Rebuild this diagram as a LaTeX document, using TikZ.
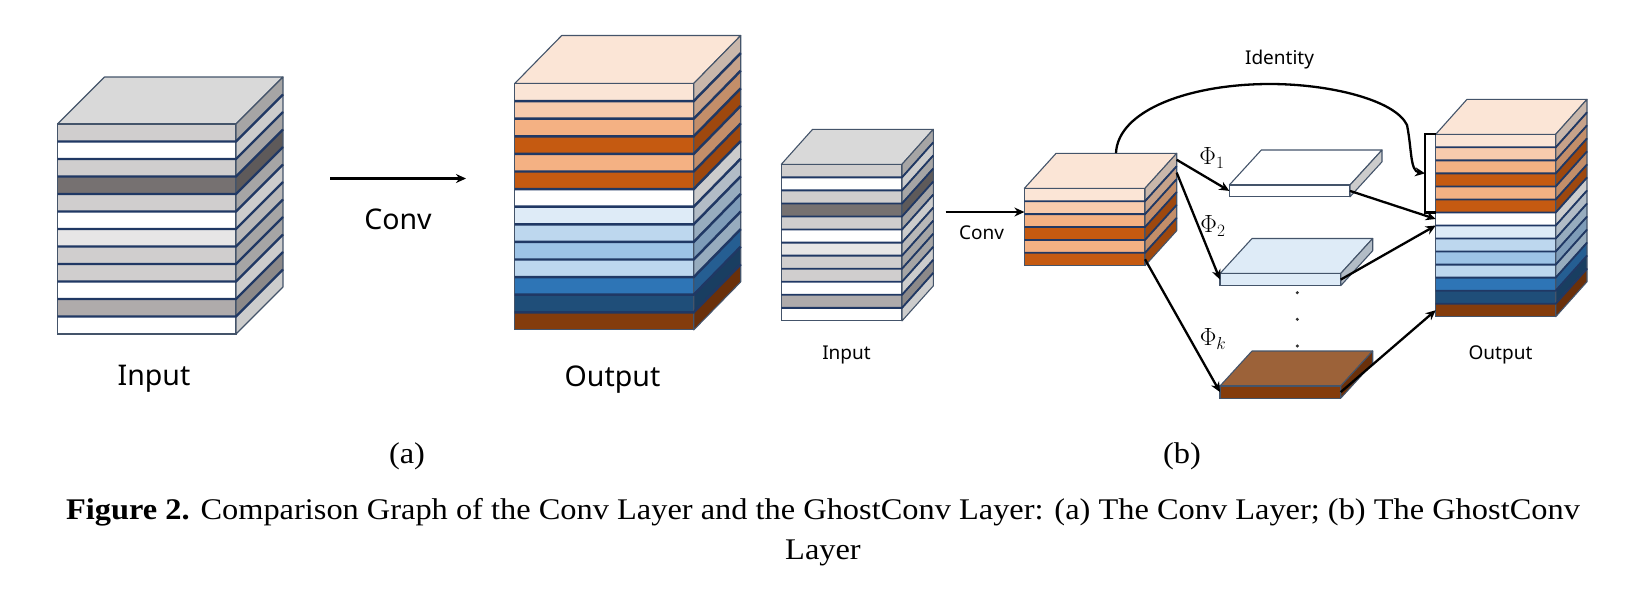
\documentclass[tikz,border=0pt]{standalone}
\usepackage{fontspec}
\setmainfont{Liberation Serif}
\newfontfamily\labelfont{Noto Sans}
\newfontfamily\capfont[FakeStretch=1.08]{Liberation Serif}
\usetikzlibrary{calc,arrows.meta}
\definecolor{edgecol}{HTML}{44546A}
\definecolor{sepcol}{HTML}{203864}
\definecolor{gra}{HTML}{D0CECE}
\definecolor{grb}{HTML}{767171}
\definecolor{grc}{HTML}{E7E6E6}
\definecolor{grd}{HTML}{AFABAB}
\definecolor{gre}{HTML}{D9D9D9}
\definecolor{ora}{HTML}{FBE5D6}
\definecolor{orb}{HTML}{F8CBAD}
\definecolor{orc}{HTML}{F4B183}
\definecolor{ord}{HTML}{C55A11}
\definecolor{ore}{HTML}{843C0C}
\definecolor{orf}{HTML}{9C6239}
\definecolor{bla}{HTML}{DEEBF7}
\definecolor{blb}{HTML}{BDD7EE}
\definecolor{blc}{HTML}{9DC3E6}
\definecolor{bld}{HTML}{2E75B6}
\definecolor{ble}{HTML}{1F4E79}
\tikzset{
  layerbox/.style={draw=edgecol, line width=1.1pt, inner sep=0pt, outer sep=0pt},
  sideface/.style={draw=edgecol, line width=1.1pt, line join=round},
  sepline/.style={draw=sepcol, line width=#1},
  flow/.style={-{Stealth[length=10pt,width=9pt]}, line width=2.3pt},
  biglabel/.style={font=\labelfont\fontsize{28.5}{34}\selectfont, inner sep=0pt},
  smalllabel/.style={font=\labelfont\fontsize{19}{23}\selectfont, inner sep=0pt},
  philabel/.style={font=\fontsize{24}{28}\selectfont, inner sep=0pt},
  sublabel/.style={font=\capfont\fontsize{30}{36}\selectfont, inner sep=0pt},
  dotmark/.style={circle, fill=black!80, inner sep=0pt, minimum size=3.4pt}
}
% name, x, y, width, layer height, depth x, depth y, top colour, layer colours
\newcommand{\layerstack}[9]{
  \draw[sideface, fill=#8] (#2,#3) -- ++(#6,-#7) -- ++(#4,0) -- ++(-#6,#7) -- cycle;
  \foreach \layercol [count=\i] in {#9} {
    \pgfmathsetmacro{\layerx}{#2+#4/2}
    \pgfmathsetmacro{\layery}{#3+(\i-0.5)*#5}
    \node[layerbox, fill=\layercol, minimum width=#4pt, minimum height=#5pt] (#1-\i) at (\layerx,\layery) {};
    \draw[sideface, fill=\layercol!80!black] (#1-\i.north east) -- ++(#6,-#7) -- ++(0,#5) -- ++(-#6,#7) -- cycle;
    \coordinate (#1-\i-b) at ($(#1-\i.east)+(#6,-#7)$);
    \ifnum\i>1
      \draw[sepline=0.14*#5] (#1-\i.north west) -- (#1-\i.north east) -- ++(#6,-#7);
    \fi
  }
}
\begin{document}
\begin{tikzpicture}[x=1pt,y=-1pt]
  \useasboundingbox (0,0) rectangle (1644,598);

  % left part
  \layerstack{ina}{57.5}{124}{178.5}{17.5}{47}{47}{gre}{gra,white,gra,grb,gra,white,grc,gra,gra,white,grd,white}
  \layerstack{outa}{514.7}{83.5}{179}{17.6}{47}{48}{ora}{ora,orb,orc,ord,orc,ord,white,bla,blb,blc,blb,bld,ble,ore}
  \node[biglabel] (inalabel) at (154,379) {Input};
  \node[biglabel] (outalabel) at (612.5,380) {Output};
  \node[biglabel] (convalabel) at (398,219) {Conv};
  \coordinate (conva1) at (330,178.5);
  \coordinate (conva2) at (466,178.5);
  \draw[flow] (conva1) -- (conva2);

  % right part
  \layerstack{inb}{781.3}{164.3}{120.7}{13.05}{31.3}{35}{gre}{gra,white,gra,grb,gra,white,grc,gra,gra,white,grd,white}
  \layerstack{mid}{1024.4}{188.3}{120.6}{12.9}{31.7}{35}{ora}{ora,orb,orc,ord,orc,ord}
  \layerstack{ga}{1229.3}{185}{120.7}{11.8}{32}{35}{white}{white}
  \layerstack{gb}{1220}{273.5}{120.7}{12.2}{32}{35}{bla}{bla}
  \layerstack{gk}{1220}{386}{120.7}{12.2}{32}{35}{orf}{ore}
  \layerstack{outb}{1435.7}{134.3}{120}{13.03}{31.3}{35}{ora}{ora,orb,orc,ord,orc,ord,white,bla,blb,blc,blb,bld,ble,ore}

  \node[smalllabel] (inblabel) at (846.5,355) {Input};
  \node[smalllabel] (outblabel) at (1500.5,355) {Output};
  \node[smalllabel] (convblabel) at (981.5,233) {Conv};
  \node[smalllabel] (idlabel) at (1279.5,60) {Identity};
  \node[philabel] (phia) at (1212,158) {$\Phi_1$};
  \node[philabel] (phib) at (1213,226) {$\Phi_2$};
  \node[philabel] (phik) at (1213,339) {$\Phi_k$};
  \node[dotmark] (dota) at (1297.3,292.7) {};
  \node[dotmark] (dotb) at (1297.3,319.3) {};
  \node[dotmark] (dotc) at (1297.3,346) {};

  \coordinate (convb1) at (945.7,212);
  \draw[flow] (convb1) -- (convb1 -| mid-3.west);
  \draw[flow] (mid-1-b) -- (ga-1.west);
  \draw[flow] (mid-2-b) -- (gb-1.west);
  \draw[flow] (mid-6.east) -- (gk-1.west);
  \draw[flow] (ga-1.east) -- (outb-7.west);
  \draw[flow] (gb-1.east) -- (outb-8.north west);
  \draw[flow] (gk-1.east) -- (outb-14.west);

  % bracket and identity path
  \draw[line width=2.3pt] (outb-1.north west) -- ++(-10.7,0) |- (outb-6.south west);
  \coordinate (idstart) at (1116,153);
  \coordinate (idend) at ($(outb-3.south west)+(-10.7,0)$);
  \draw[flow] (idstart) .. controls (1118,110) and (1190,84) .. (1270,84)
    .. controls (1330,84) and (1395,100) .. (1407,125)
    .. controls (1412,150) and (1410,171) .. (idend);

  % captions
  \node[sublabel] (suba) at (407,456) {(a)};
  \node[sublabel] (subb) at (1182,456) {(b)};
  \node[sublabel, align=center] (caption) at (823,532) {\textbf{Figure 2.} Comparison Graph of the Conv Layer and the GhostConv Layer: (a) The Conv Layer; (b) The GhostConv\\[4pt]Layer};
\end{tikzpicture}
\end{document}
